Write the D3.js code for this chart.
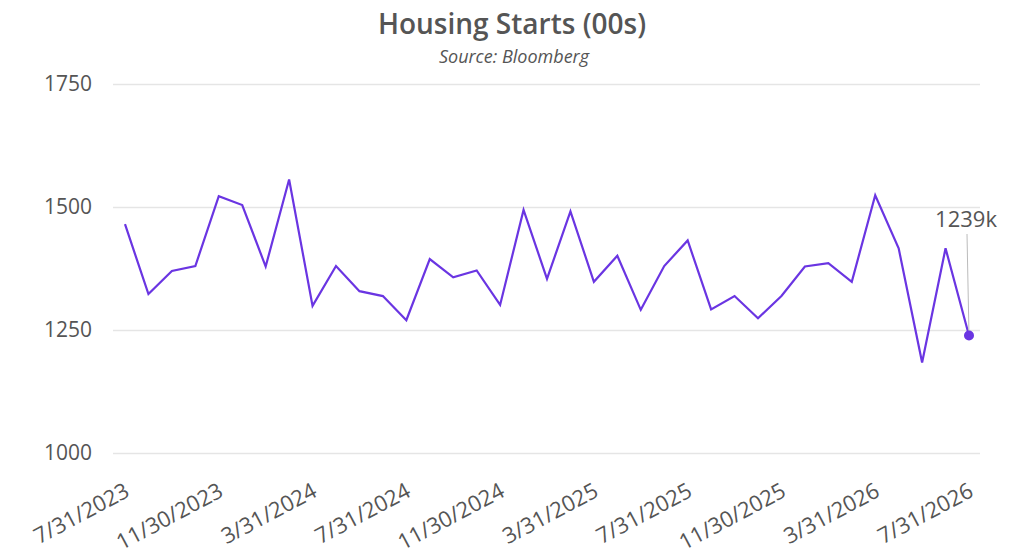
<!DOCTYPE html>
<html>
<head>
<meta charset="utf-8">
<script src="https://cdn.jsdelivr.net/npm/d3@7"></script>
<style>
  body { margin: 0; background: #fff; }
  text { font-family: "Open Sans", sans-serif; fill: #555; }
</style>
</head>
<body>
<div class="chart"></div>
<script>
var w = 1024,
    h = 556;

var dates = ["7/31/2023", "8/31/2023", "9/30/2023", "10/31/2023", "11/30/2023", "12/31/2023",
  "1/31/2024", "2/29/2024", "3/31/2024", "4/30/2024", "5/31/2024", "6/30/2024",
  "7/31/2024", "8/31/2024", "9/30/2024", "10/31/2024", "11/30/2024", "12/31/2024",
  "1/31/2025", "2/28/2025", "3/31/2025", "4/30/2025", "5/31/2025", "6/30/2025",
  "7/31/2025", "8/31/2025", "9/30/2025", "10/31/2025", "11/30/2025", "12/31/2025",
  "1/31/2026", "2/28/2026", "3/31/2026", "4/30/2026", "5/31/2026", "6/30/2026",
  "7/31/2026"];

var starts = [1465, 1323, 1370, 1380, 1522, 1504, 1379, 1556, 1299, 1380, 1329, 1319,
  1270, 1394, 1357, 1371, 1301, 1494, 1354, 1491, 1348, 1401, 1291, 1380,
  1432, 1292, 1319, 1274, 1319, 1379, 1386, 1348, 1524, 1416, 1184, 1416,
  1239];

var yTicks = [1000, 1250, 1500, 1750];

var svg = d3.select(".chart").append("svg")
  .attr("width", w)
  .attr("height", h);

var x = d3.scalePoint()
  .domain(dates)
  .range([125, 969]);

var y = d3.scaleLinear()
  .domain([1000, 1750])
  .range([453, 84]);

// title
svg.append("text")
  .attr("x", 512).attr("y", 34)
  .attr("text-anchor", "middle")
  .style("font-size", "28px")
  .style("font-weight", "600")
  .text("Housing Starts (00s)");

svg.append("text")
  .attr("x", 514).attr("y", 63)
  .attr("text-anchor", "middle")
  .style("font-size", "18px")
  .style("font-style", "italic")
  .text("Source: Bloomberg");

// y axis + grid
var yAxis = svg.append("g")
  .attr("transform", "translate(113,0)")
  .call(d3.axisLeft(y).tickValues(yTicks).tickSize(-867).tickPadding(21).tickFormat(d3.format("d")));

yAxis.select(".domain").remove();
yAxis.selectAll("line").attr("stroke", "#e5e5e5").attr("stroke-width", 1.5);
yAxis.selectAll("text")
  .style("font-size", "21px")
  .style("font-family", "Open Sans, sans-serif")
  .attr("fill", "#555");

// x axis
var xAxis = svg.append("g")
  .attr("transform", "translate(0,453)")
  .call(d3.axisBottom(x).tickValues(dates.filter(function(d, i) { return i % 4 == 0; })).tickSize(0));

xAxis.select(".domain").remove();
xAxis.selectAll("text")
  .style("font-size", "22px")
  .style("font-family", "Open Sans, sans-serif")
  .attr("fill", "#555")
  .attr("text-anchor", "end")
  .attr("dy", "0")
  .attr("transform", "translate(4,40) rotate(-28)");

// line
var line = d3.line()
  .x(function(d, i) { return x(dates[i]); })
  .y(function(d) { return y(d); });

svg.append("path")
  .datum(starts)
  .attr("d", line)
  .attr("fill", "none")
  .attr("stroke", "#6a35e2")
  .attr("stroke-width", 2.2)
  .attr("stroke-linejoin", "miter");

// last value callout
var last = starts.length - 1;
svg.append("line")
  .attr("x1", x(dates[last]) - 2).attr("y1", 234)
  .attr("x2", x(dates[last])).attr("y2", y(starts[last]))
  .attr("stroke", "#bbb")
  .attr("stroke-width", 1);

svg.append("circle")
  .attr("cx", x(dates[last]))
  .attr("cy", y(starts[last]))
  .attr("r", 5)
  .attr("fill", "#6a35e2");

svg.append("text")
  .attr("x", 966).attr("y", 227)
  .attr("text-anchor", "middle")
  .style("font-size", "22px")
  .text(starts[last] + "k");
</script>
</body>
</html>
